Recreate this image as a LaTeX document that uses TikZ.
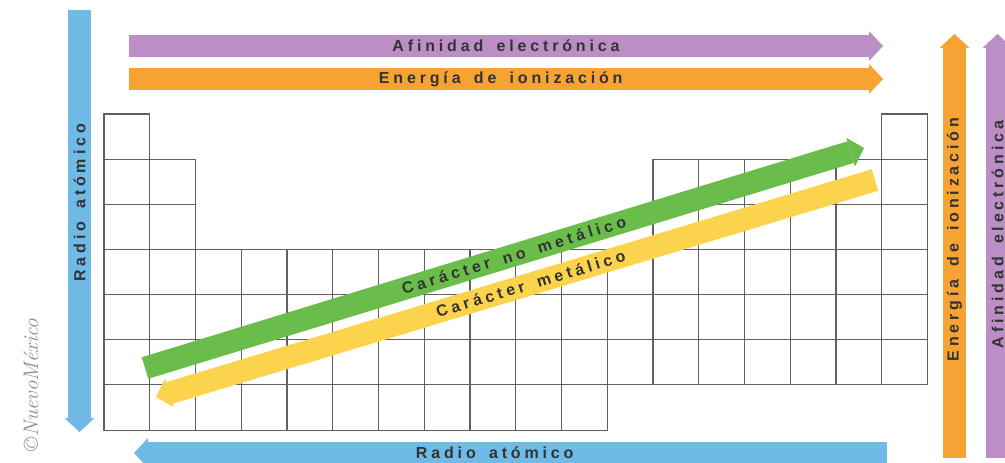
\documentclass[tikz,border=0pt]{standalone}
\usepackage{fontspec}
\usepackage{tikz}
\usetikzlibrary{arrows.meta}
\newfontfamily\barfont{Liberation Sans}[LetterSpace=24, WordSpace=1.6]
\definecolor{trendblue}{RGB}{112,186,232}
\definecolor{trendpurple}{RGB}{187,142,197}
\definecolor{trendorange}{RGB}{247,163,52}
\definecolor{trendgreen}{RGB}{106,189,74}
\definecolor{trendyellow}{RGB}{252,211,77}

\begin{document}
\begin{tikzpicture}[
    x=1pt, y=-1pt,
    cell/.style={draw=black!62, line width=1.1pt},
    trend/.style={line width=22.5pt, -{Triangle[length=14pt, width=30pt, line width=0pt]}},
    lbl/.style={font=\barfont\bfseries\fontsize{16}{16}\selectfont, text=black!80, inner sep=0pt},
    credit/.style={font=\itshape\fontsize{21}{21}\selectfont, text=black!45, inner sep=0pt}
  ]
    \useasboundingbox (0,0) rectangle (1005,463);
    \clip (0,0) rectangle (1005,463);

    \foreach \r/\cols in {1/{1,18}, 2/{1,2,13,14,15,16,17,18}, 3/{1,2,13,14,15,16,17,18}, 4/{1,...,18}, 5/{1,...,18}, 6/{1,...,18}, 7/{1,...,11}} {
      \foreach \c in \cols
        \draw[cell] ({104+(\c-1)*45.75},{114+(\r-1)*45.15}) rectangle ++(45.75,45.15);
    }

    \coordinate (afTop-w) at (129,46);
    \coordinate (afTop-e) at (883,46);
    \coordinate (eiTop-w) at (129,79);
    \coordinate (eiTop-e) at (883,79);
    \coordinate (raLeft-n) at (79.5,10);
    \coordinate (raLeft-s) at (79.5,432);
    \coordinate (raBot-e) at (887,453);
    \coordinate (raBot-w) at (134,453);
    \coordinate (eiRight-s) at (954.5,458);
    \coordinate (eiRight-n) at (954.5,34);
    \coordinate (afRight-s) at (997.5,458);
    \coordinate (afRight-n) at (997.5,34);
    \coordinate (nm-tail) at (145,368);
    \coordinate (nm-tip) at (864,148);
    \coordinate (me-tail) at (875,180);
    \coordinate (me-tip) at (156,397);

    \draw[trend, trendpurple] (afTop-w) -- node[lbl, pos=.5] (afTopLbl) {Afinidad electrónica} (afTop-e);
    \draw[trend, trendorange] (eiTop-w) -- node[lbl, pos=.493] (eiTopLbl) {Energía de ionización} (eiTop-e);
    \draw[trend, trendblue] (raLeft-n) -- node[lbl, pos=.457, rotate=90] (raLeftLbl) {Radio atómico} (raLeft-s);
    \draw[trend, trendblue] (raBot-e) -- node[lbl, pos=.521] (raBotLbl) {Radio atómico} (raBot-w);
    \draw[trend, trendorange] (eiRight-s) -- node[lbl, pos=.515, rotate=90] (eiRightLbl) {Energía de ionización} (eiRight-n);
    \draw[trend, trendpurple] (afRight-s) -- node[lbl, pos=.527, rotate=90] (afRightLbl) {Afinidad electrónica} (afRight-n);
    \draw[trend, trendgreen] (nm-tail) -- node[lbl, pos=.513, sloped] (nmLbl) {Carácter no metálico} (nm-tip);
    \draw[trend, trendyellow] (me-tail) -- node[lbl, pos=.479, sloped] (meLbl) {Carácter metálico} (me-tip);

    \node[credit, rotate=90] (creditLbl) at (31,385) {©NuevoMéxico};
  \end{tikzpicture}
\end{document}
